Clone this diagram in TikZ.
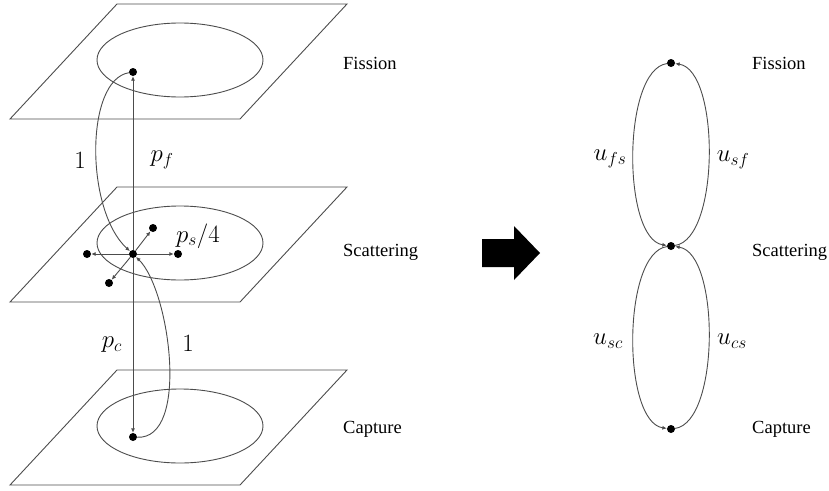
\documentclass[tikz,border=0pt]{standalone}
\usepackage{fontspec}
\setmainfont{Liberation Serif}
\usetikzlibrary{arrows.meta, positioning}

\begin{document}
\begin{tikzpicture}[
    x=1pt, y=-1pt,
    dot/.style={circle, fill=black, inner sep=0pt, minimum size=8pt},
    arrow/.style={-{Latex[length=4.5pt, width=4pt]}, draw=black!70, line width=0.9pt},
    plane/.style={draw=black!70, line width=0.9pt},
    lab/.style={font=\fontsize{18.5}{22}\selectfont, anchor=west, inner sep=0pt},
    mlab/.style={font=\fontsize{24}{28}\selectfont, inner sep=0pt}
]
    \useasboundingbox (0,0) rectangle (829,490);

    % the three planes with their ellipses
    \foreach \y in {4, 187, 370} {
        \draw[plane] (117,\y) -- (347,\y) -- (240,\y+115) -- (10,\y+115) -- cycle;
        \draw[plane] (180,\y+56) ellipse [x radius=83, y radius=37];
    }

    % left: states on the planes
    \node[dot] (fis) at (133,72) {};
    \node[dot] (sca) at (133,254) {};
    \node[dot] (cap) at (133,437) {};
    \node[dot] (sl) at (87,254) {};
    \node[dot] (sr) at (178,254) {};
    \node[dot] (su) at (153,228) {};
    \node[dot] (sd) at (109,283) {};

    \draw[arrow] (sca) -- (fis);
    \draw[arrow] (sca) -- (cap);
    \foreach \s in {sl, sr, su, sd}
        \draw[arrow] (sca) -- (\s);
    \draw[arrow] (fis) .. controls (85,80) and (85,210) .. (sca);
    \draw[arrow] (cap) .. controls (190,440) and (170,290) .. (sca);

    \node[mlab] (one1) at (80,160) {$1$};
    \node[mlab] (pf) at (162,160) {$p_f$};
    \node[mlab] (ps) at (198,236) {$p_s/4$};
    \node[mlab] (pc) at (112,345) {$p_c$};
    \node[mlab] (one2) at (188,343) {$1$};

    \node[lab] (fisL) at (343,63) {Fission};
    \node[lab] (scaL) at (343,252) {Scattering};
    \node[lab] (capL) at (343,429) {Capture};

    % block arrow
    \fill (482,239) -- (514,239) -- (514,226) -- (540,253) -- (514,280) -- (514,267) -- (482,267) -- cycle;

    % right: reduced chain
    \node[dot] (rfis) at (671,63) {};
    \node[dot] (rsca) at (671,246) {};
    \node[dot] (rcap) at (671,429) {};

    \draw[arrow] (rfis) .. controls (622,70) and (622,239) .. (rsca);
    \draw[arrow] (rsca) .. controls (720,239) and (720,70) .. (rfis);
    \draw[arrow] (rsca) .. controls (622,253) and (622,422) .. (rcap);
    \draw[arrow] (rcap) .. controls (720,422) and (720,253) .. (rsca);

    \node[mlab] (ufs) at (610,159) {$u_{fs}$};
    \node[mlab] (usf) at (733,160) {$u_{sf}$};
    \node[mlab] (usc) at (608,341) {$u_{sc}$};
    \node[mlab] (ucs) at (732,341) {$u_{cs}$};

    \node[lab] (rfisL) at (752,63) {Fission};
    \node[lab] (rscaL) at (752,252) {Scattering};
    \node[lab] (rcapL) at (752,429) {Capture};
\end{tikzpicture}
\end{document}
